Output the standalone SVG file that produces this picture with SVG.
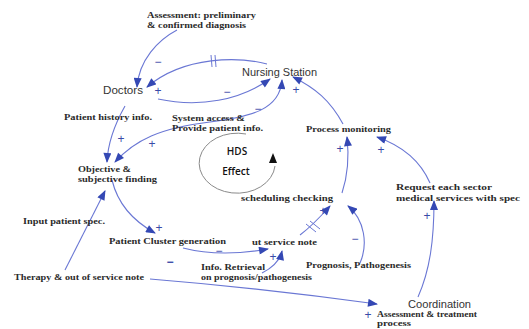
<svg xmlns="http://www.w3.org/2000/svg" width="529" height="329" viewBox="0 0 529 329">
<style>
.bg{fill:#ffffff}
.lbl{font-family:"Liberation Serif","Times New Roman",serif;font-weight:bold;font-size:9px;fill:#2b2b2b}
.sm{font-size:8px}
.node{font-family:"Liberation Sans",Arial,sans-serif;font-size:10.5px;fill:#333333}
.hds{font-family:"Open Sans","Liberation Sans",sans-serif;font-weight:600;font-size:10px;fill:#111111}
.sign{font-family:"Liberation Sans",Arial,sans-serif;font-size:12px;fill:#3a4aa8;text-anchor:middle;dominant-baseline:central}
.link{fill:none;stroke:#6a77d4;stroke-width:1.1}
.hash{fill:none;stroke:#6a77d4;stroke-width:1}
.loop{fill:none;stroke:#8a8a8a;stroke-width:1}
</style>
<defs>
<marker id="ah" viewBox="0 0 10 8" refX="9" refY="4" markerWidth="11" markerHeight="8" markerUnits="userSpaceOnUse" orient="auto-start-reverse">
<path d="M0,0 L10,4 L0,8 Z" fill="#3448b4"/>
</marker>
</defs>
<rect class="bg" x="0" y="0" width="529" height="329"/>

<g id="connectors">
<path class="link" d="M177,30 C158,40 139,60 137,87" marker-end="url(#ah)"/>
<path class="link" d="M267,64 C240,57 185,55 147,87" marker-end="url(#ah)"/>
<path class="hash" d="M211,55 L212,67 M215,55 L216,67"/>
<path class="link" d="M158,99 C200,108 240,100 270,79" marker-end="url(#ah)"/>
<path class="link" d="M343,124 C330,100 315,88 293,77" marker-end="url(#ah)"/>
<path class="link" d="M115,162 C135,140 160,128 210,122 C250,117 280,110 282,80" marker-start="url(#ah)" marker-end="url(#ah)"/>
<path class="link" d="M125,106 C116,122 108,140 107,162" marker-end="url(#ah)"/>
<path class="link" d="M112,180 C118,205 135,222 155,233" marker-end="url(#ah)"/>
<path class="link" d="M65,270 L105,191" marker-end="url(#ah)"/>
<path class="link" d="M183,248 C210,255 240,254 268,249" marker-end="url(#ah)"/>
<path class="link" d="M262,273 C272,268 280,260 282,251" marker-end="url(#ah)"/>
<path class="link" d="M300,235 C312,226 322,215 330,206" marker-end="url(#ah)"/>
<path class="hash" d="M306,224 L316,232 M310,221 L320,229"/>
<path class="link" d="M360,263 C368,245 365,220 348,206" marker-end="url(#ah)"/>
<path class="link" d="M342,193 C348,175 349,155 347,137" marker-end="url(#ah)"/>
<path class="link" d="M430,183 C420,160 400,145 377,137" marker-end="url(#ah)"/>
<path class="link" d="M418,297 C430,270 434,240 434,201" marker-end="url(#ah)"/>
<path class="link" d="M150,279 Q260,288 377,304" marker-end="url(#ah)"/>
</g>

<g id="hds-loop">
<path class="loop" d="M246,134 A38,30 0 1 0 275,166"/>
<path d="M273,153 L277,163 L269,163 Z" fill="#111111"/>
<text class="hds" x="237" y="155" text-anchor="middle">HDS</text>
<text class="hds" x="236" y="175" text-anchor="middle">Effect</text>
</g>

<g id="assessment-diagnosis">
<text class="lbl" x="147" y="18" textLength="109" lengthAdjust="spacingAndGlyphs">Assessment: preliminary</text>
<text class="lbl" x="147" y="28" textLength="99" lengthAdjust="spacingAndGlyphs">&amp; confirmed diagnosis</text>
</g>
<g id="doctors">
<text class="node" x="103" y="94" textLength="40" lengthAdjust="spacingAndGlyphs">Doctors</text>
</g>
<g id="nursing-station">
<text class="node" x="242" y="76" textLength="75" lengthAdjust="spacingAndGlyphs">Nursing Station</text>
</g>
<g id="patient-history">
<text class="lbl" x="64" y="120" textLength="88" lengthAdjust="spacingAndGlyphs">Patient history info.</text>
</g>
<g id="system-access">
<text class="lbl" x="172" y="121" textLength="73" lengthAdjust="spacingAndGlyphs">System access &amp;</text>
<text class="lbl" x="172" y="131" textLength="91" lengthAdjust="spacingAndGlyphs">Provide patient info.</text>
</g>
<g id="process-monitoring">
<text class="lbl" x="306" y="132" textLength="85" lengthAdjust="spacingAndGlyphs">Process monitoring</text>
</g>
<g id="objective-finding">
<text class="lbl" x="78" y="172" textLength="53" lengthAdjust="spacingAndGlyphs">Objective &amp;</text>
<text class="lbl" x="78" y="182" textLength="79" lengthAdjust="spacingAndGlyphs">subjective finding</text>
</g>
<g id="scheduling-checking">
<text class="lbl" x="241" y="201" textLength="92" lengthAdjust="spacingAndGlyphs">scheduling checking</text>
</g>
<g id="request-sector">
<text class="lbl" x="396" y="190" textLength="96" lengthAdjust="spacingAndGlyphs">Request each sector</text>
<text class="lbl" x="396" y="201" textLength="124" lengthAdjust="spacingAndGlyphs">medical services with spec</text>
</g>
<g id="input-patient-spec">
<text class="lbl" x="23" y="224" textLength="82" lengthAdjust="spacingAndGlyphs">Input patient spec.</text>
</g>
<g id="patient-cluster">
<text class="lbl" x="109" y="244" textLength="117" lengthAdjust="spacingAndGlyphs">Patient Cluster generation</text>
</g>
<g id="out-service-note">
<text class="lbl" x="252" y="245" textLength="65" lengthAdjust="spacingAndGlyphs">ut service note</text>
</g>
<g id="info-retrieval">
<text class="lbl" x="201" y="270" textLength="64" lengthAdjust="spacingAndGlyphs">Info. Retrieval</text>
<text class="lbl" x="201" y="280" textLength="111" lengthAdjust="spacingAndGlyphs">on prognosis/pathogenesis</text>
</g>
<g id="prognosis">
<text class="lbl" x="306" y="268" textLength="105" lengthAdjust="spacingAndGlyphs">Prognosis, Pathogenesis</text>
</g>
<g id="therapy">
<text class="lbl" x="14" y="280" textLength="130" lengthAdjust="spacingAndGlyphs">Therapy &amp; out of service note</text>
</g>
<g id="coordination">
<text class="node" x="408" y="308" textLength="63" lengthAdjust="spacingAndGlyphs">Coordination</text>
</g>
<g id="assessment-treatment">
<text class="lbl sm" x="377" y="317" textLength="100" lengthAdjust="spacingAndGlyphs">Assessment &amp; treatment</text>
<text class="lbl sm" x="377" y="326" textLength="34" lengthAdjust="spacingAndGlyphs">process</text>
</g>

<g id="signs">
<text class="sign" x="158" y="62">−</text>
<text class="sign" x="158" y="91">+</text>
<text class="sign" x="227" y="92">−</text>
<text class="sign" x="296" y="90">+</text>
<text class="sign" x="258" y="109">−</text>
<text class="sign" x="121" y="139">+</text>
<text class="sign" x="152" y="144">+</text>
<text class="sign" x="159" y="228">+</text>
<text class="sign" x="219" y="251">−</text>
<text class="sign" x="170" y="262" style="font-weight:bold">−</text>
<text class="sign" x="273" y="257">+</text>
<text class="sign" x="323" y="211">+</text>
<text class="sign" x="355" y="239">−</text>
<text class="sign" x="340" y="149">+</text>
<text class="sign" x="381" y="150">+</text>
<text class="sign" x="427" y="216">+</text>
<text class="sign" x="368" y="315">+</text>
</g>
</svg>
